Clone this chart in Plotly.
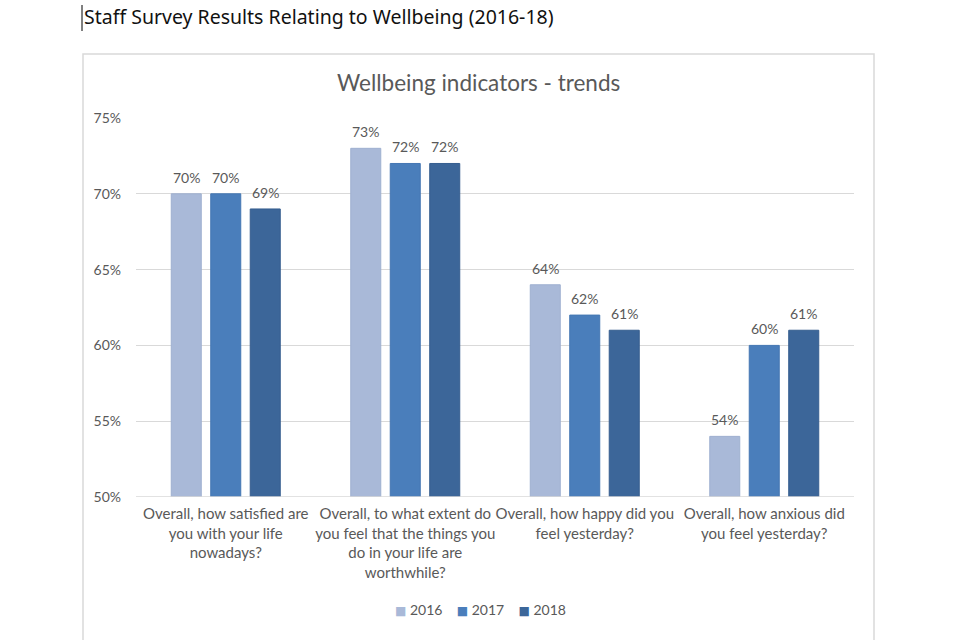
import plotly.graph_objects as go

categories = [
    "Overall, how satisfied are<br>you with your life<br>nowadays?",
    "Overall, to what extent do<br>you feel that the things you<br>do in your life are<br>worthwhile?",
    "Overall, how happy did you<br>feel yesterday?",
    "Overall, how anxious did<br>you feel yesterday?",
]
years = ["2016", "2017", "2018"]
values_2016 = [70, 73, 64, 54]
values_2017 = [70, 72, 62, 60]
values_2018 = [69, 72, 61, 61]
series = [values_2016, values_2017, values_2018]
colors = ["#A9B9D8", "#4A7EBB", "#3C6699"]
edges = ["#9FB0D0", "#4477B3", "#365E8F"]

FONT = "Lato"
GRAY = "#595959"

# target plot-area edges in page pixels
L, R, T, B = 136, 854, 118, 497
W, H = R - L, B - T
FIG_W, FIG_H = 960, 640

def px(x):
    return (x - L) / W

def py(y):
    return (B - y) / H

BARGAP = 0.34
GROUPGAP = 0.24
slot_px = W / len(categories) * (1 - BARGAP) / len(years)

fig = go.Figure()
annotations = []
for i, (name, vals, c, e) in enumerate(zip(years, series, colors, edges)):
    fig.add_trace(go.Bar(
        name=name, x=categories, y=vals,
        marker=dict(color=c, line=dict(color=e, width=1)),
        cliponaxis=False, showlegend=False,
    ))
    for cat, v in zip(categories, vals):
        annotations.append(dict(
            x=cat, y=v, xref="x", yref="y", text=f"{v}%", showarrow=False,
            xanchor="center", yanchor="bottom", yshift=6,
            xshift=(i - 1) * slot_px,
            font=dict(family=FONT, size=14, color=GRAY),
        ))

# compact legend built from the series names/colours
legend_text = "&nbsp;&nbsp;&nbsp;&nbsp;".join(
    f"<span style='color:{c};font-family:DejaVu Sans;font-size:12px'>■</span>&nbsp;{y}"
    for y, c in zip(years, colors)
)

annotations += [
    dict(text="Wellbeing indicators - trends", xref="paper", yref="paper",
         x=px(478), y=py(83), xanchor="center", yanchor="middle", showarrow=False,
         font=dict(family=FONT, size=22.5, color=GRAY)),
    dict(text="Staff Survey Results Relating to Wellbeing (2016-18)", xref="paper", yref="paper",
         x=px(82), y=py(17), xanchor="left", yanchor="middle", showarrow=False,
         font=dict(family="Noto Sans", size=19.5, color="#111111")),
    dict(text=legend_text, xref="paper", yref="paper",
         x=px(480), y=py(609), xanchor="center", yanchor="middle", showarrow=False,
         font=dict(family=FONT, size=14, color=GRAY)),
]

fig.update_layout(
    width=FIG_W, height=FIG_H, autosize=False,
    margin=dict(l=L, r=FIG_W - R, t=T, b=FIG_H - B),
    paper_bgcolor="white", plot_bgcolor="white",
    barmode="group", bargap=BARGAP, bargroupgap=GROUPGAP,
    font=dict(family=FONT, color=GRAY),
    showlegend=False,
    xaxis=dict(showgrid=False, showline=False, ticks="", tickangle=0, automargin=False,
               tickfont=dict(family=FONT, size=15, color=GRAY), fixedrange=True,
               ticklabelstandoff=6),
    yaxis=dict(range=[50, 75], dtick=5, ticksuffix="%", showgrid=True, automargin=False,
               gridcolor="#D9D9D9", gridwidth=1, zeroline=False, showline=False,
               tickfont=dict(family=FONT, size=14, color=GRAY), ticks="",
               ticklabelstandoff=14),
    shapes=[
        dict(type="rect", xref="paper", yref="paper",
             x0=px(83), x1=px(874), y0=py(680), y1=py(54),
             line=dict(color="#D9D9D9", width=1.5), layer="below"),
        dict(type="line", xref="paper", yref="paper",
             x0=px(82), x1=px(82), y0=py(5), y1=py(31),
             line=dict(color="#000000", width=1)),
        dict(type="line", xref="paper", yref="y",
             x0=0, x1=1, y0=50, y1=50,
             line=dict(color="#D9D9D9", width=1.5)),
    ],
    annotations=annotations,
)

fig.write_html(
    "out.html",
    config={"displayModeBar": False},
    post_script="document.body.style.margin='0';document.body.style.overflow='hidden';",
)
